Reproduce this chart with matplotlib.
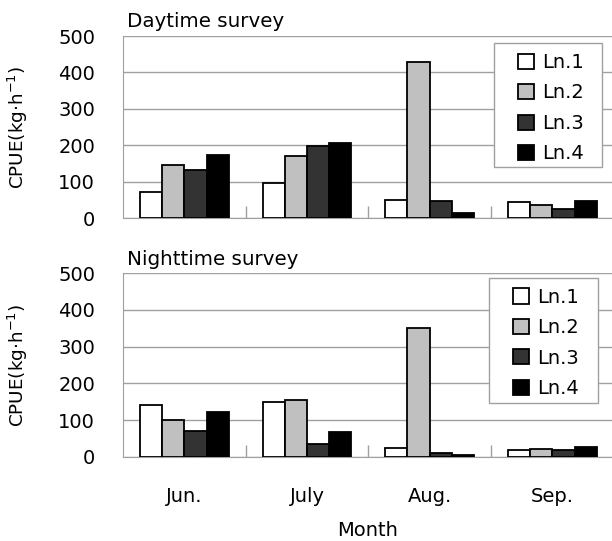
import matplotlib
matplotlib.use("Agg")
import matplotlib.pyplot as plt
import numpy as np
from matplotlib.patches import Patch, Rectangle

plt.rcParams['font.family'] = ['DejaVu Sans']

months = ["Jun.", "July", "Aug.", "Sep."]
series = ["Ln.1", "Ln.2", "Ln.3", "Ln.4"]
colors = ["#ffffff", "#c0c0c0", "#333333", "#000000"]

day_ln1 = [72, 97, 49, 44]
day_ln2 = [146, 170, 428, 36]
day_ln3 = [133, 199, 47, 24]
day_ln4 = [173, 205, 15, 47]

night_ln1 = [142, 150, 24, 17]
night_ln2 = [99, 154, 352, 20]
night_ln3 = [69, 34, 11, 17]
night_ln4 = [123, 66, 4, 27]

day = [day_ln1, day_ln2, day_ln3, day_ln4]
night = [night_ln1, night_ln2, night_ln3, night_ln4]

W, H = 612, 541
fig = plt.figure(figsize=(W/100, H/100), dpi=100)

def px_axes(left, top, right, bottom):
    return fig.add_axes([left/W, 1-bottom/H, (right-left)/W, (bottom-top)/H])

ax1 = px_axes(123, 36, 613.7, 218)
ax2 = px_axes(123, 273.3, 613.7, 456.7)

x = np.arange(len(months))
bw = 0.181
grid_c = "#a0a0a0"
FS = 14

def draw(ax, data, title, frame_box, leg_anchor, show_x):
    for i, (vals, c) in enumerate(zip(data, colors)):
        ax.bar(x + (i - 1.5) * bw, vals, bw, color=c, edgecolor="black",
               linewidth=1.3, zorder=3, label=series[i])
    ax.set_xlim(-0.5, 3.5)
    ax.set_ylim(0, 500)
    ax.set_yticks([0, 100, 200, 300, 400, 500])
    ax.yaxis.grid(True, color=grid_c, linewidth=1.0, zorder=0)
    for s in ["top", "right"]:
        ax.spines[s].set_visible(False)
    ax.spines["left"].set_color(grid_c)
    ax.spines["bottom"].set_color(grid_c)
    ax.tick_params(axis="y", length=0, pad=20, labelsize=FS)
    ax.set_xticks(x)
    ax.set_xticks([0.5, 1.5, 2.5], minor=True)
    ax.tick_params(axis="x", which="major", length=0, pad=22, labelsize=FS)
    ax.tick_params(axis="x", which="minor", direction="in", length=9,
                   color=grid_c, width=1.0)
    if show_x:
        ax.set_xticklabels(months)
    else:
        ax.set_xticklabels([])
    ax.text(0.008, 1.025, title, transform=ax.transAxes, fontsize=14.3,
            ha="left", va="bottom")
    # legend frame
    l, t, r, b = frame_box
    fig.patches.append(Rectangle((l/W, 1-b/H), (r-l)/W, (b-t)/H,
                                 transform=fig.transFigure, facecolor="white",
                                 edgecolor=grid_c, linewidth=1.0, zorder=4))
    handles = [Patch(facecolor=c, edgecolor="black", linewidth=1.3) for c in colors]
    leg = fig.legend(handles, series, loc="upper left",
                     bbox_to_anchor=(leg_anchor[0]/W, 1-leg_anchor[1]/H),
                     bbox_transform=fig.transFigure,
                     fontsize=FS, frameon=False,
                     handlelength=0.82, handleheight=0.82,
                     handletextpad=0.4, labelspacing=0.59, borderpad=0,
                     borderaxespad=0)
    leg.set_zorder(5)
    fig.text(18/W, (ax.get_position().y0 + ax.get_position().y1)/2,
             "CPUE(kg·h$^{-1}$)", rotation=90, ha="center", va="center",
             fontsize=13.2)

draw(ax1, day, "Daytime survey", (493.7, 43.3, 602, 166.7), (518, 53), False)
draw(ax2, night, "Nighttime survey", (488.7, 278.3, 598, 402.7), (513.3, 287.7), True)

fig.text(368/W, 1-530/H, "Month", ha="center", va="center", fontsize=FS)

fig.savefig("out.png", dpi=100, facecolor="white")
